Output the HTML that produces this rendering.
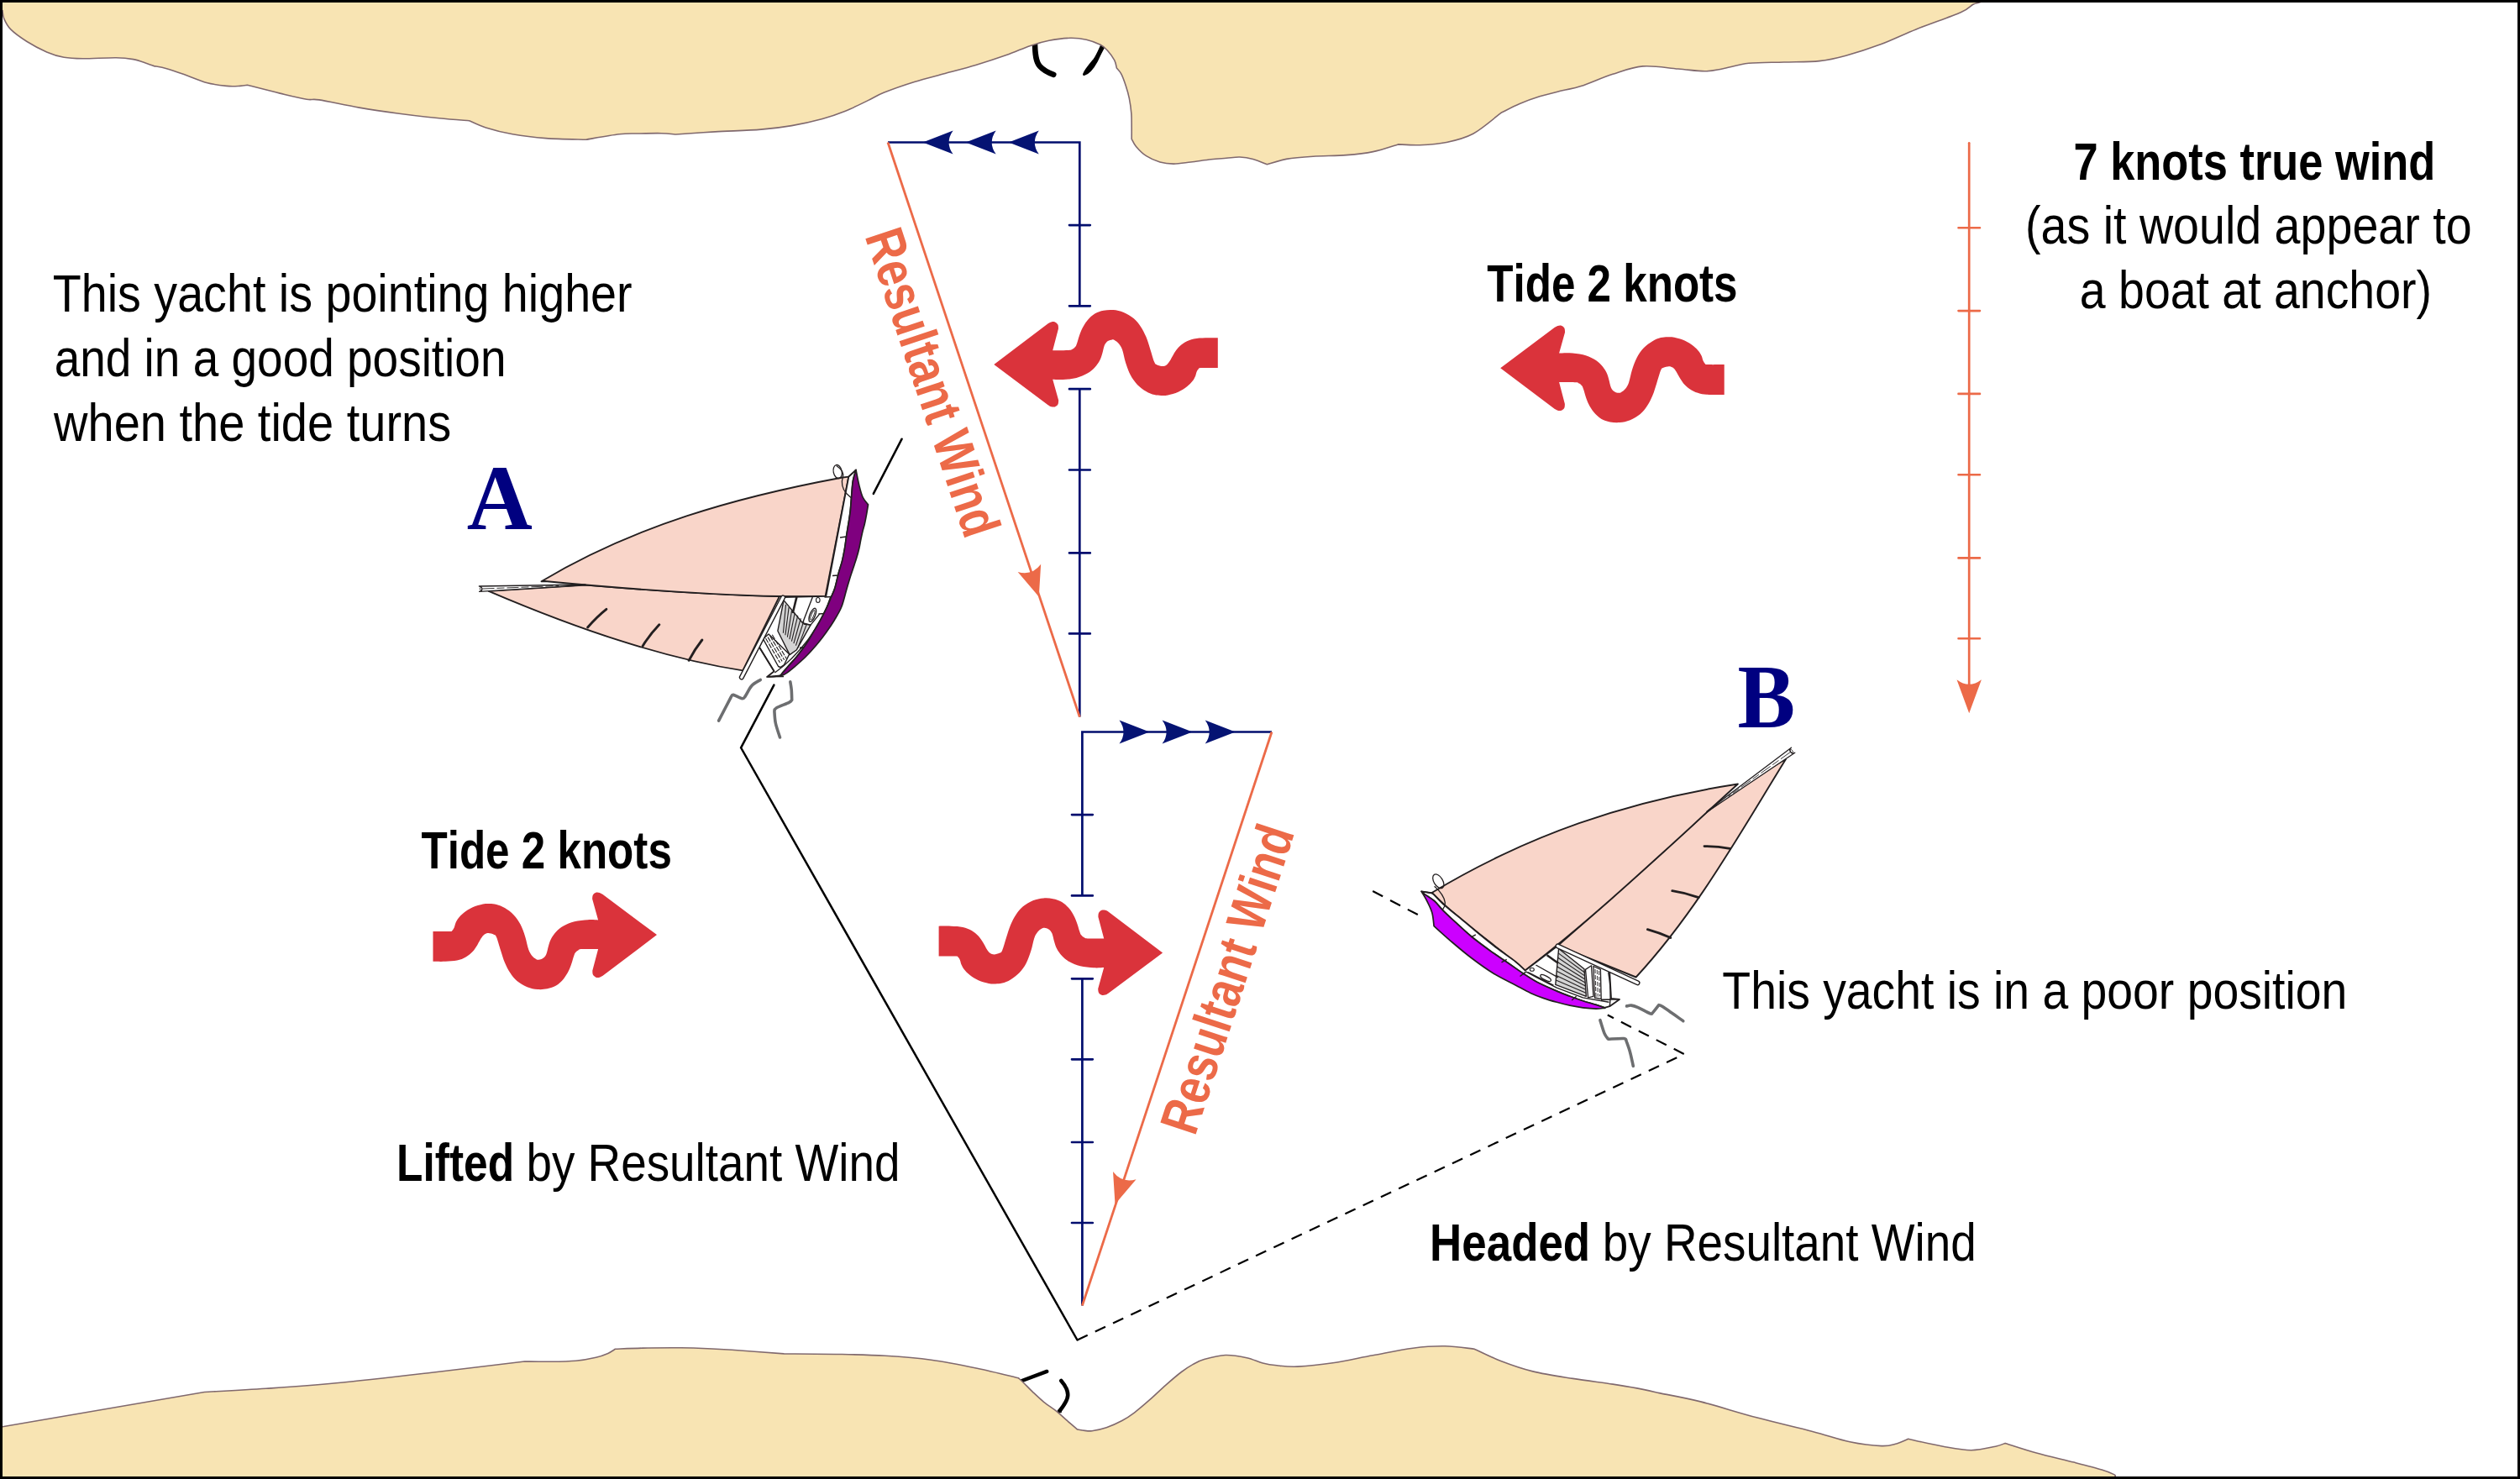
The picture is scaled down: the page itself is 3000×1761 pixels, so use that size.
<!DOCTYPE html><html><head><meta charset="utf-8"><title>Resultant wind and tide</title><style>html,body{margin:0;padding:0;background:#fff;overflow:hidden}svg{display:block}text{font-kerning:none}</style></head><body><svg xmlns="http://www.w3.org/2000/svg" width="3000" height="1761" viewBox="0 0 3000 1761"><rect width="3000" height="1761" fill="#fff"/><path d="M1232,49 C1232,66 1233.5,74 1238,79 C1243,84.5 1249,87 1254.3,88.8" fill="none" stroke="#000" stroke-width="6.5" stroke-linecap="round"/>
<path d="M1313,51 C1308,62 1306,67 1303,71 C1298,77 1292.5,83 1290.5,88.5 C1296,87 1302,79 1305.5,72.5 C1308.5,66 1311.5,60 1313.5,56.5 Z" fill="#000" stroke="#000" stroke-width="3" stroke-linejoin="round"/>
<path d="M1212,1645.8 L1246.3,1632.9" fill="none" stroke="#000" stroke-width="4.4" stroke-linecap="round"/>
<path d="M1263.3,1644 C1268,1649.5 1271.5,1655 1271.2,1661.4 C1271,1667 1267,1673 1261.5,1680" fill="none" stroke="#000" stroke-width="4.6" stroke-linecap="round"/>
<path d="M1258.5,1679.5 L1264.5,1674.5 L1263.5,1682.5 Z" fill="#000"/>
<path d="M-5,-5 L-5,10 L3,12.7 C3.3,14.28 3.18,18.5 4.8,22.2 C6.42,25.9 8.22,30.4 12.7,34.9 C17.18,39.4 24.55,44.7 31.7,49.2 C38.85,53.7 48.18,58.72 55.6,61.9 C63.02,65.08 69.07,66.98 76.2,68.3 C83.33,69.62 88.08,69.73 98.4,69.8 C108.72,69.87 128.05,68.57 138.1,68.7 C148.15,68.83 152.62,69.48 158.7,70.6 C164.78,71.72 170.5,74.07 174.6,75.4 C178.7,76.73 181.85,78.07 183.3,78.6 C185.82,79.12 191.92,79.85 198.4,81.7 C204.88,83.55 214.27,86.92 222.2,89.7 C230.13,92.48 238.07,96.28 246,98.4 C253.93,100.52 263.18,101.73 269.8,102.4 C276.42,103.07 281.6,102.58 285.7,102.4 C289.8,102.22 292.95,101.48 294.4,101.3 C300.88,102.93 321.52,108.27 333.3,111.1 C345.08,113.93 357.32,117 365.1,118.3 C372.88,119.6 369.58,117.27 380,118.9 C390.42,120.53 411.73,125.38 427.6,128.1 C443.47,130.82 459.32,133.08 475.2,135.2 C491.08,137.32 509,139.38 522.9,140.8 C536.8,142.22 552.65,143.22 558.6,143.7 C561.9,145.07 569.8,149.22 578.4,151.9 C587,154.58 598.3,157.68 610.2,159.8 C622.1,161.92 635.25,163.53 649.8,164.6 C664.35,165.67 689.55,165.93 697.5,166.2 C704.1,165.13 726.68,161 737.1,159.8 C747.52,158.6 751.62,159.18 760,159 C768.38,158.82 779.95,158.53 787.4,158.7 C794.85,158.87 801.82,159.78 804.7,160 C812.47,159.48 834.42,157.88 851.3,156.9 C868.18,155.92 890.8,155.32 906,154.1 C921.2,152.88 930.32,151.72 942.5,149.6 C954.68,147.48 968.45,144.3 979.1,141.4 C989.75,138.5 997.28,135.87 1006.4,132.2 C1015.52,128.53 1026.18,123.05 1033.8,119.4 C1041.42,115.75 1042.97,113.95 1052.1,110.3 C1061.23,106.65 1076.43,101.3 1088.6,97.5 C1100.77,93.7 1112.93,90.83 1125.1,87.5 C1137.27,84.17 1149.43,81.15 1161.6,77.5 C1173.77,73.85 1187.25,69.45 1198.1,65.6 C1208.95,61.75 1218.23,57.28 1226.7,54.4 C1235.17,51.52 1241.03,49.82 1248.9,48.3 C1256.77,46.78 1266.5,45.48 1273.9,45.3 C1281.3,45.12 1287.28,45.87 1293.3,47.2 C1299.32,48.53 1305.83,51.17 1310,53.3 C1314.17,55.43 1315.52,56.93 1318.3,60 C1321.08,63.07 1324.85,68.18 1326.7,71.7 C1328.55,75.22 1328.95,79.53 1329.4,81.1 C1330.33,82.3 1333.18,84.78 1335,88.3 C1336.82,91.82 1338.75,97.45 1340.3,102.2 C1341.85,106.95 1343.22,111.4 1344.3,116.8 C1345.38,122.2 1346.32,128.92 1346.8,134.6 C1347.28,140.28 1347.13,145.75 1347.2,150.9 C1347.27,156.05 1347.2,163.07 1347.2,165.5 C1348.08,166.98 1349.6,171.03 1352.5,174.4 C1355.4,177.77 1359.87,182.6 1364.6,185.7 C1369.33,188.8 1375.48,191.43 1380.9,193 C1386.32,194.57 1391.02,195.1 1397.1,195.1 C1403.18,195.1 1409.97,193.88 1417.4,193 C1424.83,192.12 1434.6,190.58 1441.7,189.8 C1448.8,189.02 1454.3,188.77 1460,188.3 C1465.7,187.83 1470.62,186.82 1475.9,187 C1481.18,187.18 1486.28,187.95 1491.7,189.4 C1497.12,190.85 1505.62,194.65 1508.4,195.7 C1512.23,194.65 1522.27,190.98 1531.4,189.4 C1540.53,187.82 1551.28,187 1563.2,186.2 C1575.12,185.4 1591,185.53 1602.9,184.6 C1614.8,183.67 1624.35,182.72 1634.6,180.6 C1644.85,178.48 1659.43,173.35 1664.4,171.9 C1668.7,172.03 1680.62,173.1 1690.2,172.7 C1699.78,172.3 1711.32,171.75 1721.9,169.5 C1732.48,167.25 1742.85,165.07 1753.7,159.2 C1764.55,153.33 1781.45,138.45 1787,134.3 C1790.7,132.5 1801.53,126.75 1809.2,123.5 C1816.87,120.25 1824.53,117.42 1833,114.8 C1841.47,112.18 1851.82,109.83 1860,107.8 C1868.18,105.77 1872.12,105.85 1882.1,102.6 C1892.08,99.35 1907.63,92.25 1919.9,88.3 C1932.17,84.35 1942.73,79.95 1955.7,78.9 C1968.67,77.85 1985.43,81.02 1997.7,82 C2009.97,82.98 2020.53,84.8 2029.3,84.8 C2038.07,84.8 2041.53,83.58 2050.3,82 C2059.07,80.42 2069.63,76.63 2081.9,75.3 C2094.17,73.97 2109.88,74.45 2123.9,74 C2137.92,73.55 2153.73,73.9 2166,72.6 C2178.27,71.3 2185.23,69.53 2197.5,66.2 C2209.77,62.87 2225.58,57.85 2239.6,52.6 C2253.62,47.35 2265.83,41.02 2281.6,34.7 C2297.37,28.38 2322.98,19.6 2334.2,14.7 C2345.42,9.8 2345.03,7.33 2348.9,5.3 C2352.77,3.27 2353.88,4.22 2357.4,2.5 C2360.92,0.78 2367.9,-3.75 2370,-5 L-5,-5 Z" fill="#F8E4B3" stroke="#80696E" stroke-width="1.6"/>
<path d="M-5,1700 L3,1698.7 L243.3,1657.5 C255.53,1656.8 290.58,1655.08 316.7,1653.3 C342.82,1651.52 367.45,1649.93 400,1646.8 C432.55,1643.67 474.57,1638.8 512,1634.5 C549.43,1630.2 605.83,1623.25 624.6,1621 C629.5,1621.05 643.82,1621.43 654,1621.3 C664.18,1621.17 676.45,1621.05 685.7,1620.2 C694.95,1619.35 703.15,1617.67 709.5,1616.2 C715.85,1614.73 719.97,1613.05 723.8,1611.4 C727.63,1609.75 731.05,1607.15 732.5,1606.3 C737.92,1606.1 753.75,1605.35 765,1605.1 C776.25,1604.85 789.9,1604.82 800,1604.8 C810.1,1604.78 813.72,1604.58 825.6,1605 C837.48,1605.42 853.35,1606.15 871.3,1607.3 C889.25,1608.45 922.97,1611.13 933.3,1611.9 C944.27,1612 979.02,1612.1 999.1,1612.5 C1019.18,1612.9 1035.55,1613.18 1053.8,1614.3 C1072.05,1615.42 1090.35,1616.72 1108.6,1619.2 C1126.85,1621.68 1146,1625.62 1163.3,1629.2 C1180.6,1632.78 1204.22,1638.78 1212.4,1640.7 C1213.38,1641.62 1215.5,1643.47 1218.3,1646.2 C1221.1,1648.93 1225.15,1653.25 1229.2,1657.1 C1233.25,1660.95 1237.83,1665.43 1242.6,1669.3 C1247.37,1673.17 1253.23,1676.65 1257.8,1680.3 C1262.37,1683.95 1265.9,1687.6 1270,1691.2 C1274.1,1694.8 1280.33,1700.12 1282.4,1701.9 C1283.88,1702.15 1288.37,1703.1 1291.3,1703.4 C1294.23,1703.7 1295.68,1704.32 1300,1703.7 C1304.32,1703.08 1311.23,1701.73 1317.2,1699.7 C1323.17,1697.67 1330.22,1694.48 1335.8,1691.5 C1341.38,1688.52 1345.12,1686.02 1350.7,1681.8 C1356.28,1677.58 1363.1,1671.65 1369.3,1666.2 C1375.5,1660.75 1381.7,1654.55 1387.9,1649.1 C1394.1,1643.65 1401.15,1637.58 1406.5,1633.5 C1411.85,1629.42 1415.5,1627.08 1420,1624.6 C1424.5,1622.12 1427.02,1620.45 1433.5,1618.6 C1439.98,1616.75 1450.43,1613.82 1458.9,1613.5 C1467.37,1613.18 1476.9,1615.12 1484.3,1616.7 C1491.7,1618.28 1497.35,1621.48 1503.3,1623 C1509.25,1624.52 1513.08,1625.12 1520,1625.8 C1526.92,1626.48 1533.68,1627.6 1544.8,1627.1 C1555.92,1626.6 1571.78,1625.02 1586.7,1622.8 C1601.62,1620.58 1618.43,1616.73 1634.3,1613.8 C1650.17,1610.87 1667.62,1607.03 1681.9,1605.2 C1696.18,1603.37 1707.78,1602.63 1720,1602.8 C1732.22,1602.97 1749.33,1605.63 1755.2,1606.2 C1760.45,1608.58 1775.1,1616.05 1786.7,1620.5 C1798.3,1624.95 1810.52,1629.42 1824.8,1632.9 C1839.08,1636.38 1856.53,1638.87 1872.4,1641.4 C1888.27,1643.93 1907.3,1646.18 1920,1648.1 C1932.7,1650.02 1939.4,1651.15 1948.6,1652.9 C1957.8,1654.65 1970.77,1657.65 1975.2,1658.6 C1983.4,1660.32 2005.08,1664.03 2024.4,1668.9 C2043.72,1673.77 2068.87,1681.88 2091.1,1687.8 C2113.33,1693.72 2139.28,1699.58 2157.8,1704.4 C2176.32,1709.22 2188.5,1713.83 2202.2,1716.7 C2215.9,1719.57 2230.73,1721.23 2240,1721.6 C2249.27,1721.97 2252.53,1720.28 2257.8,1718.9 C2263.07,1717.52 2269.3,1714.23 2271.6,1713.3 C2278.55,1714.78 2300.78,1719.97 2313.3,1722.2 C2325.82,1724.43 2336.32,1726.7 2346.7,1726.7 C2357.08,1726.7 2368.87,1723.58 2375.6,1722.2 C2382.33,1720.82 2385.18,1719.03 2387.1,1718.4 C2393.32,1720.33 2410.77,1726.22 2424.4,1730 C2438.03,1733.78 2455.93,1737.77 2468.9,1741.1 C2481.87,1744.43 2494.23,1747.58 2502.2,1750 C2510.17,1752.42 2514.07,1754.27 2516.7,1755.6 C2519.33,1756.93 2517.78,1757.6 2518,1758 L2518,1775 L-5,1775 L-5,1700 Z" fill="#F8E4B3" stroke="#80696E" stroke-width="1.6"/>
<path d="M1057,169.5 H1285.3 V364.3 M1285.3,463.2 V853.6" fill="none" stroke="#020E6E" stroke-width="2.7" stroke-linejoin="miter"/>
<path d="M1273,268.1 H1297.8 M1273,364.3 H1297.8 M1273,463.2 H1297.8 M1273,559.5 H1297.8 M1273,658.4 H1297.8 M1273,754.4 H1297.8 " fill="none" stroke="#020E6E" stroke-width="2.7" stroke-linecap="round"/>
<path d="M0,0 L-36,-14.1 Q-26,0 -36,14.1 Z" fill="#051373" transform="translate(1098.6,169.5) rotate(180)"/>
<path d="M0,0 L-36,-14.1 Q-26,0 -36,14.1 Z" fill="#051373" transform="translate(1149.7,169.5) rotate(180)"/>
<path d="M0,0 L-36,-14.1 Q-26,0 -36,14.1 Z" fill="#051373" transform="translate(1200.8,169.5) rotate(180)"/>
<path d="M1514,871.5 H1288.4 V1066.4 M1288.4,1165.3 V1554.5" fill="none" stroke="#020E6E" stroke-width="2.7" stroke-linejoin="miter"/>
<path d="M1276,970.1 H1300.8 M1276,1066.4 H1300.8 M1276,1165.3 H1300.8 M1276,1261.3 H1300.8 M1276,1360 H1300.8 M1276,1456 H1300.8 " fill="none" stroke="#020E6E" stroke-width="2.7" stroke-linecap="round"/>
<path d="M0,0 L-36,-14.1 Q-26,0 -36,14.1 Z" fill="#051373" transform="translate(1368.5,871.5) rotate(0)"/>
<path d="M0,0 L-36,-14.1 Q-26,0 -36,14.1 Z" fill="#051373" transform="translate(1419.6,871.5) rotate(0)"/>
<path d="M0,0 L-36,-14.1 Q-26,0 -36,14.1 Z" fill="#051373" transform="translate(1470.7,871.5) rotate(0)"/>
<path d="M1057,169.5 L1285.3,853.6" fill="none" stroke="#EC6A48" stroke-width="2.8"/>
<path d="M0,0 L-36,-14.5 Q-26,0 -36,14.5 Z" fill="#EC6A48" transform="translate(1236.8,710.6) rotate(71.54)"/>
<path d="M1514,871.5 L1288.4,1554.5" fill="none" stroke="#EC6A48" stroke-width="2.8"/>
<path d="M0,0 L-36,-14.5 Q-26,0 -36,14.5 Z" fill="#EC6A48" transform="translate(1327.5,1433.8) rotate(108.28)"/>
<path d="M2344.2,170.3 V815" fill="none" stroke="#EC6A48" stroke-width="2.7" stroke-linecap="round"/>
<path d="M2331.5,271.3 H2357 M2331.5,370.1 H2357 M2331.5,468.9 H2357 M2331.5,565.3 H2357 M2331.5,664.4 H2357 M2331.5,760.2 H2357 " fill="none" stroke="#EC6A48" stroke-width="2.6" stroke-linecap="round"/>
<path d="M0,0 L-40,-14.7 Q-29.0,0 -40,14.7 Z" fill="#EC6A48" transform="translate(2344.2,849.2) rotate(90)"/>
<path d="M1073.6,522.7 L1039.8,587.9" fill="none" stroke="#000" stroke-width="2.5" stroke-linecap="round"/>
<path d="M921.4,815.6 L882.1,890.3 L1282.5,1595.5" fill="none" stroke="#000" stroke-width="2.5" stroke-linecap="round" stroke-linejoin="miter"/>
<path d="M1282.5,1595.5 L2005,1255.1 L1913.8,1208.6" fill="none" stroke="#000" stroke-width="2.2" stroke-dasharray="13.5 10" stroke-linejoin="miter"/>
<path d="M1634.2,1061.1 L1688.6,1089.5" fill="none" stroke="#000" stroke-width="2.2" stroke-dasharray="13.5 10"/>
<path d="M0,-17.8 C3.27,-17.8 15.78,-17.62 19.6,-17.8 C23.42,-17.98 21.95,-18.1 22.9,-18.9 C23.85,-19.7 24.63,-21.1 25.3,-22.6 C25.97,-24.1 26.08,-26.08 26.9,-27.9 C27.72,-29.72 28.57,-31.48 30.2,-33.5 C31.83,-35.52 33.87,-37.83 36.7,-40 C39.53,-42.17 43.42,-44.8 47.2,-46.5 C50.98,-48.2 56.02,-49.5 59.4,-50.2 C62.78,-50.9 64.8,-50.77 67.5,-50.7 C70.2,-50.63 72.62,-50.63 75.6,-49.8 C78.58,-48.97 82.02,-47.73 85.4,-45.7 C88.78,-43.67 92.8,-40.85 95.9,-37.6 C99,-34.35 101.7,-30.53 104,-26.2 C106.3,-21.87 108.08,-16.6 109.7,-11.6 C111.32,-6.6 112.35,0.02 113.7,3.8 C115.05,7.58 116.3,9.22 117.8,11.1 C119.3,12.98 121.35,14.3 122.7,15.1 C124.05,15.9 124.55,16.03 125.9,15.9 C127.25,15.77 129.32,15.37 130.8,14.3 C132.28,13.23 133.68,11.97 134.8,9.5 C135.92,7.03 136.55,2.55 137.5,-0.5 C138.45,-3.55 139,-6 140.5,-8.8 C142,-11.6 144.03,-14.72 146.5,-17.3 C148.97,-19.88 151.65,-22.25 155.3,-24.3 C158.95,-26.35 163.57,-28.38 168.4,-29.6 C173.23,-30.82 179.6,-31.3 184.3,-31.6 C189,-31.9 194.55,-31.43 196.6,-31.4 L189.6,-56.5 C189.73,-57.3 189.68,-60.03 190.4,-61.3 C191.12,-62.57 192.58,-63.67 193.9,-64.1 C195.22,-64.53 196.98,-64.23 198.3,-63.9 C199.62,-63.57 201.22,-62.4 201.8,-62.1 L266.5,-13.7 L201.8,35.2 C201.22,35.48 199.62,36.62 198.3,36.9 C196.98,37.18 195.22,37.42 193.9,36.9 C192.58,36.38 191.08,35.12 190.4,33.8 C189.72,32.48 189.9,29.8 189.8,29 L196.6,3.1 C193.37,3.13 181.17,3.03 177.2,3.3 C173.23,3.57 174.12,3.97 172.8,4.7 C171.48,5.43 170.17,6.53 169.3,7.7 C168.43,8.87 168.33,9.57 167.6,11.7 C166.87,13.83 165.93,17.57 164.9,20.5 C163.87,23.43 163,26.23 161.4,29.3 C159.8,32.37 157.78,35.98 155.3,38.9 C152.82,41.82 149.72,44.87 146.5,46.8 C143.28,48.73 139.67,49.77 136,50.5 C132.33,51.23 128.48,51.55 124.5,51.2 C120.52,50.85 116.18,50.08 112.1,48.4 C108.02,46.72 103.38,43.93 100,41.1 C96.62,38.27 94.23,35.05 91.8,31.4 C89.37,27.75 87.28,23.67 85.4,19.2 C83.52,14.73 82.13,9.6 80.5,4.6 C78.87,-0.4 76.95,-7.68 75.6,-10.8 C74.25,-13.92 74.02,-13.28 72.4,-14.1 C70.78,-14.92 67.8,-15.7 65.9,-15.7 C64,-15.7 62.48,-15.18 61,-14.1 C59.52,-13.02 58.35,-11.23 57,-9.2 C55.65,-7.17 54.53,-4.47 52.9,-1.9 C51.27,0.67 49.5,3.77 47.2,6.2 C44.9,8.63 42.2,10.93 39.1,12.7 C36,14.47 32.65,15.92 28.6,16.8 C24.55,17.68 19.57,17.8 14.8,18 C10.03,18.2 2.47,18 0,18 L0,-17.8 Z" fill="#DA333B" transform="translate(515.5,1126.8)"/>
<path d="M0,-17.8 C3.27,-17.8 15.78,-17.62 19.6,-17.8 C23.42,-17.98 21.95,-18.1 22.9,-18.9 C23.85,-19.7 24.63,-21.1 25.3,-22.6 C25.97,-24.1 26.08,-26.08 26.9,-27.9 C27.72,-29.72 28.57,-31.48 30.2,-33.5 C31.83,-35.52 33.87,-37.83 36.7,-40 C39.53,-42.17 43.42,-44.8 47.2,-46.5 C50.98,-48.2 56.02,-49.5 59.4,-50.2 C62.78,-50.9 64.8,-50.77 67.5,-50.7 C70.2,-50.63 72.62,-50.63 75.6,-49.8 C78.58,-48.97 82.02,-47.73 85.4,-45.7 C88.78,-43.67 92.8,-40.85 95.9,-37.6 C99,-34.35 101.7,-30.53 104,-26.2 C106.3,-21.87 108.08,-16.6 109.7,-11.6 C111.32,-6.6 112.35,0.02 113.7,3.8 C115.05,7.58 116.3,9.22 117.8,11.1 C119.3,12.98 121.35,14.3 122.7,15.1 C124.05,15.9 124.55,16.03 125.9,15.9 C127.25,15.77 129.32,15.37 130.8,14.3 C132.28,13.23 133.68,11.97 134.8,9.5 C135.92,7.03 136.55,2.55 137.5,-0.5 C138.45,-3.55 139,-6 140.5,-8.8 C142,-11.6 144.03,-14.72 146.5,-17.3 C148.97,-19.88 151.65,-22.25 155.3,-24.3 C158.95,-26.35 163.57,-28.38 168.4,-29.6 C173.23,-30.82 179.6,-31.3 184.3,-31.6 C189,-31.9 194.55,-31.43 196.6,-31.4 L189.6,-56.5 C189.73,-57.3 189.68,-60.03 190.4,-61.3 C191.12,-62.57 192.58,-63.67 193.9,-64.1 C195.22,-64.53 196.98,-64.23 198.3,-63.9 C199.62,-63.57 201.22,-62.4 201.8,-62.1 L266.5,-13.7 L201.8,35.2 C201.22,35.48 199.62,36.62 198.3,36.9 C196.98,37.18 195.22,37.42 193.9,36.9 C192.58,36.38 191.08,35.12 190.4,33.8 C189.72,32.48 189.9,29.8 189.8,29 L196.6,3.1 C193.37,3.13 181.17,3.03 177.2,3.3 C173.23,3.57 174.12,3.97 172.8,4.7 C171.48,5.43 170.17,6.53 169.3,7.7 C168.43,8.87 168.33,9.57 167.6,11.7 C166.87,13.83 165.93,17.57 164.9,20.5 C163.87,23.43 163,26.23 161.4,29.3 C159.8,32.37 157.78,35.98 155.3,38.9 C152.82,41.82 149.72,44.87 146.5,46.8 C143.28,48.73 139.67,49.77 136,50.5 C132.33,51.23 128.48,51.55 124.5,51.2 C120.52,50.85 116.18,50.08 112.1,48.4 C108.02,46.72 103.38,43.93 100,41.1 C96.62,38.27 94.23,35.05 91.8,31.4 C89.37,27.75 87.28,23.67 85.4,19.2 C83.52,14.73 82.13,9.6 80.5,4.6 C78.87,-0.4 76.95,-7.68 75.6,-10.8 C74.25,-13.92 74.02,-13.28 72.4,-14.1 C70.78,-14.92 67.8,-15.7 65.9,-15.7 C64,-15.7 62.48,-15.18 61,-14.1 C59.52,-13.02 58.35,-11.23 57,-9.2 C55.65,-7.17 54.53,-4.47 52.9,-1.9 C51.27,0.67 49.5,3.77 47.2,6.2 C44.9,8.63 42.2,10.93 39.1,12.7 C36,14.47 32.65,15.92 28.6,16.8 C24.55,17.68 19.57,17.8 14.8,18 C10.03,18.2 2.47,18 0,18 L0,-17.8 Z" fill="#DA333B" transform="translate(1117.6,1120.7) scale(1,-1)"/>
<path d="M0,-17.8 C3.27,-17.8 15.78,-17.62 19.6,-17.8 C23.42,-17.98 21.95,-18.1 22.9,-18.9 C23.85,-19.7 24.63,-21.1 25.3,-22.6 C25.97,-24.1 26.08,-26.08 26.9,-27.9 C27.72,-29.72 28.57,-31.48 30.2,-33.5 C31.83,-35.52 33.87,-37.83 36.7,-40 C39.53,-42.17 43.42,-44.8 47.2,-46.5 C50.98,-48.2 56.02,-49.5 59.4,-50.2 C62.78,-50.9 64.8,-50.77 67.5,-50.7 C70.2,-50.63 72.62,-50.63 75.6,-49.8 C78.58,-48.97 82.02,-47.73 85.4,-45.7 C88.78,-43.67 92.8,-40.85 95.9,-37.6 C99,-34.35 101.7,-30.53 104,-26.2 C106.3,-21.87 108.08,-16.6 109.7,-11.6 C111.32,-6.6 112.35,0.02 113.7,3.8 C115.05,7.58 116.3,9.22 117.8,11.1 C119.3,12.98 121.35,14.3 122.7,15.1 C124.05,15.9 124.55,16.03 125.9,15.9 C127.25,15.77 129.32,15.37 130.8,14.3 C132.28,13.23 133.68,11.97 134.8,9.5 C135.92,7.03 136.55,2.55 137.5,-0.5 C138.45,-3.55 139,-6 140.5,-8.8 C142,-11.6 144.03,-14.72 146.5,-17.3 C148.97,-19.88 151.65,-22.25 155.3,-24.3 C158.95,-26.35 163.57,-28.38 168.4,-29.6 C173.23,-30.82 179.6,-31.3 184.3,-31.6 C189,-31.9 194.55,-31.43 196.6,-31.4 L189.6,-56.5 C189.73,-57.3 189.68,-60.03 190.4,-61.3 C191.12,-62.57 192.58,-63.67 193.9,-64.1 C195.22,-64.53 196.98,-64.23 198.3,-63.9 C199.62,-63.57 201.22,-62.4 201.8,-62.1 L266.5,-13.7 L201.8,35.2 C201.22,35.48 199.62,36.62 198.3,36.9 C196.98,37.18 195.22,37.42 193.9,36.9 C192.58,36.38 191.08,35.12 190.4,33.8 C189.72,32.48 189.9,29.8 189.8,29 L196.6,3.1 C193.37,3.13 181.17,3.03 177.2,3.3 C173.23,3.57 174.12,3.97 172.8,4.7 C171.48,5.43 170.17,6.53 169.3,7.7 C168.43,8.87 168.33,9.57 167.6,11.7 C166.87,13.83 165.93,17.57 164.9,20.5 C163.87,23.43 163,26.23 161.4,29.3 C159.8,32.37 157.78,35.98 155.3,38.9 C152.82,41.82 149.72,44.87 146.5,46.8 C143.28,48.73 139.67,49.77 136,50.5 C132.33,51.23 128.48,51.55 124.5,51.2 C120.52,50.85 116.18,50.08 112.1,48.4 C108.02,46.72 103.38,43.93 100,41.1 C96.62,38.27 94.23,35.05 91.8,31.4 C89.37,27.75 87.28,23.67 85.4,19.2 C83.52,14.73 82.13,9.6 80.5,4.6 C78.87,-0.4 76.95,-7.68 75.6,-10.8 C74.25,-13.92 74.02,-13.28 72.4,-14.1 C70.78,-14.92 67.8,-15.7 65.9,-15.7 C64,-15.7 62.48,-15.18 61,-14.1 C59.52,-13.02 58.35,-11.23 57,-9.2 C55.65,-7.17 54.53,-4.47 52.9,-1.9 C51.27,0.67 49.5,3.77 47.2,6.2 C44.9,8.63 42.2,10.93 39.1,12.7 C36,14.47 32.65,15.92 28.6,16.8 C24.55,17.68 19.57,17.8 14.8,18 C10.03,18.2 2.47,18 0,18 L0,-17.8 Z" fill="#DA333B" transform="translate(2052.7,451.9) scale(-1,1)"/>
<path d="M0,-17.8 C3.27,-17.8 15.78,-17.62 19.6,-17.8 C23.42,-17.98 21.95,-18.1 22.9,-18.9 C23.85,-19.7 24.63,-21.1 25.3,-22.6 C25.97,-24.1 26.08,-26.08 26.9,-27.9 C27.72,-29.72 28.57,-31.48 30.2,-33.5 C31.83,-35.52 33.87,-37.83 36.7,-40 C39.53,-42.17 43.42,-44.8 47.2,-46.5 C50.98,-48.2 56.02,-49.5 59.4,-50.2 C62.78,-50.9 64.8,-50.77 67.5,-50.7 C70.2,-50.63 72.62,-50.63 75.6,-49.8 C78.58,-48.97 82.02,-47.73 85.4,-45.7 C88.78,-43.67 92.8,-40.85 95.9,-37.6 C99,-34.35 101.7,-30.53 104,-26.2 C106.3,-21.87 108.08,-16.6 109.7,-11.6 C111.32,-6.6 112.35,0.02 113.7,3.8 C115.05,7.58 116.3,9.22 117.8,11.1 C119.3,12.98 121.35,14.3 122.7,15.1 C124.05,15.9 124.55,16.03 125.9,15.9 C127.25,15.77 129.32,15.37 130.8,14.3 C132.28,13.23 133.68,11.97 134.8,9.5 C135.92,7.03 136.55,2.55 137.5,-0.5 C138.45,-3.55 139,-6 140.5,-8.8 C142,-11.6 144.03,-14.72 146.5,-17.3 C148.97,-19.88 151.65,-22.25 155.3,-24.3 C158.95,-26.35 163.57,-28.38 168.4,-29.6 C173.23,-30.82 179.6,-31.3 184.3,-31.6 C189,-31.9 194.55,-31.43 196.6,-31.4 L189.6,-56.5 C189.73,-57.3 189.68,-60.03 190.4,-61.3 C191.12,-62.57 192.58,-63.67 193.9,-64.1 C195.22,-64.53 196.98,-64.23 198.3,-63.9 C199.62,-63.57 201.22,-62.4 201.8,-62.1 L266.5,-13.7 L201.8,35.2 C201.22,35.48 199.62,36.62 198.3,36.9 C196.98,37.18 195.22,37.42 193.9,36.9 C192.58,36.38 191.08,35.12 190.4,33.8 C189.72,32.48 189.9,29.8 189.8,29 L196.6,3.1 C193.37,3.13 181.17,3.03 177.2,3.3 C173.23,3.57 174.12,3.97 172.8,4.7 C171.48,5.43 170.17,6.53 169.3,7.7 C168.43,8.87 168.33,9.57 167.6,11.7 C166.87,13.83 165.93,17.57 164.9,20.5 C163.87,23.43 163,26.23 161.4,29.3 C159.8,32.37 157.78,35.98 155.3,38.9 C152.82,41.82 149.72,44.87 146.5,46.8 C143.28,48.73 139.67,49.77 136,50.5 C132.33,51.23 128.48,51.55 124.5,51.2 C120.52,50.85 116.18,50.08 112.1,48.4 C108.02,46.72 103.38,43.93 100,41.1 C96.62,38.27 94.23,35.05 91.8,31.4 C89.37,27.75 87.28,23.67 85.4,19.2 C83.52,14.73 82.13,9.6 80.5,4.6 C78.87,-0.4 76.95,-7.68 75.6,-10.8 C74.25,-13.92 74.02,-13.28 72.4,-14.1 C70.78,-14.92 67.8,-15.7 65.9,-15.7 C64,-15.7 62.48,-15.18 61,-14.1 C59.52,-13.02 58.35,-11.23 57,-9.2 C55.65,-7.17 54.53,-4.47 52.9,-1.9 C51.27,0.67 49.5,3.77 47.2,6.2 C44.9,8.63 42.2,10.93 39.1,12.7 C36,14.47 32.65,15.92 28.6,16.8 C24.55,17.68 19.57,17.8 14.8,18 C10.03,18.2 2.47,18 0,18 L0,-17.8 Z" fill="#DA333B" transform="translate(1449.8,420.3) scale(-1,-1)"/>
<text transform="translate(64,371.1) scale(0.8834,1.0) translate(-1.42,0)" font-family="Liberation Sans" font-weight="normal" font-size="63" fill="#000" style="font-kerning:none">This yacht is pointing higher</text>
<text transform="translate(67,448.1) scale(0.8725,1.0) translate(-2.68,0)" font-family="Liberation Sans" font-weight="normal" font-size="63" fill="#000" style="font-kerning:none">and in a good position</text>
<text transform="translate(64,525) scale(0.8888,1.0) translate(0.09,0)" font-family="Liberation Sans" font-weight="normal" font-size="63" fill="#000" style="font-kerning:none">when the tide turns</text>
<text transform="translate(2470.7,213.8) scale(0.8320,1.0) translate(-2.71,0)" font-family="Liberation Sans" font-weight="bold" font-size="63" fill="#000" style="font-kerning:none">7 knots true wind</text>
<text transform="translate(2414.4,290) scale(0.8829,1.0) translate(-3.91,0)" font-family="Liberation Sans" font-weight="normal" font-size="63" fill="#000" style="font-kerning:none">(as it would appear to</text>
<text transform="translate(2478.2,366.7) scale(0.8801,1.0) translate(-2.68,0)" font-family="Liberation Sans" font-weight="normal" font-size="63" fill="#000" style="font-kerning:none">a boat at anchor)</text>
<text transform="translate(1770.9,358.8) scale(0.8115,1.0) translate(-0.71,0)" font-family="Liberation Sans" font-weight="bold" font-size="63" fill="#000" style="font-kerning:none">Tide 2 knots</text>
<text transform="translate(502,1033.5) scale(0.8120,1.0) translate(-0.71,0)" font-family="Liberation Sans" font-weight="bold" font-size="63" fill="#000" style="font-kerning:none">Tide 2 knots</text>
<text transform="translate(475.5,1405.5) scale(0.8170,1.0) translate(-4.21,0)" font-family="Liberation Sans" font-weight="bold" font-size="63" fill="#000" style="font-kerning:none">Lifted</text>
<text transform="translate(630,1405.5) scale(0.8706,1.0) translate(-4.06,0)" font-family="Liberation Sans" font-weight="normal" font-size="63" fill="#000" style="font-kerning:none">by Resultant Wind</text>
<text transform="translate(1705.65,1501.25) scale(0.8396,1.0) translate(-4.21,0)" font-family="Liberation Sans" font-weight="bold" font-size="63" fill="#000" style="font-kerning:none">Headed</text>
<text transform="translate(1911.3,1501.25) scale(0.8704,1.0) translate(-4.06,0)" font-family="Liberation Sans" font-weight="normal" font-size="63" fill="#000" style="font-kerning:none">by Resultant Wind</text>
<text transform="translate(2051.6,1201.1) scale(0.8782,1.0) translate(-1.42,0)" font-family="Liberation Sans" font-weight="normal" font-size="63" fill="#000" style="font-kerning:none">This yacht is in a poor position</text>
<text transform="translate(556.7,629.9) scale(0.9928,1.0) translate(-1.06,0)" font-family="Liberation Serif" font-weight="bold" font-size="109" fill="#000080" style="font-kerning:none">A</text>
<text transform="translate(2070.1,865.9) scale(0.9490,1.0) translate(-1.8,0)" font-family="Liberation Serif" font-weight="bold" font-size="108.5" fill="#000080" style="font-kerning:none">B</text>
<text transform="translate(1030.3,284.3) rotate(71.647) scale(0.8139,1.0) translate(-4.31,0)" font-family="Liberation Sans" font-weight="bold" font-size="64.5" fill="#EC6A48" style="font-kerning:none">Resultant Wind</text>
<text transform="translate(1423.7,1350.3) rotate(-71.865) scale(0.8129,1.0) translate(-4.31,0)" font-family="Liberation Sans" font-weight="bold" font-size="64.5" fill="#EC6A48" style="font-kerning:none">Resultant Wind</text>
<path d="M581.8,703.8 L697,696.5 C774.16,702.88 850.56,708.37 928,710 L884.3,798.4 C783.67,782.93 674.97,743.68 581.8,703.8 Z" fill="#F9D5C9" stroke="#231F20" stroke-width="1.9" stroke-linejoin="round" />
<path d="M644.5,692.2 C754.73,626.26 876.37,591.88 1001.7,568.7 L1010.3,567.6 L982.5,710.5 L928,710 C834.6,707.82 741.58,700.84 648.6,692 Z" fill="#F9D5C9" stroke="#231F20" stroke-width="1.9" stroke-linejoin="round" />
<path d="M570.62,704.4 L697.01,696.6 L696.99,696 L570.38,698 A3.2,3.2 0 0 1 570.62,704.4 Z" fill="#fff" stroke="#231F20" stroke-width="1.3" stroke-linejoin="round" /><path d="M574.5,701.05 L665.38,697.52" stroke="#231F20" stroke-width="0.9" stroke-dasharray="14 3 9 3" fill="none"/><ellipse cx="572.7" cy="701.11" rx="1.3" ry="1.92" transform="rotate(-2.2 572.7 701.11)" fill="none" stroke="#231F20" stroke-width="0.8"/>
<path d="M699.6,747 Q711,734 721.9,725.4" stroke="#231F20" stroke-width="2.9" stroke-linecap="round" fill="none"/>
<path d="M765.1,769.2 Q773,756 784.8,743.7" stroke="#231F20" stroke-width="2.9" stroke-linecap="round" fill="none"/>
<path d="M820.1,786.3 Q827,773 835.8,762" stroke="#231F20" stroke-width="2.9" stroke-linecap="round" fill="none"/>
<path d="M931.8,711 L983.3,709.8 L1010.3,567.6 L1019,559.5 C1018.42,561.67 1016.37,567.42 1015.5,572.5 C1014.63,577.58 1014.33,583.98 1013.8,590 C1013.27,596.02 1012.92,603.02 1012.3,608.6 C1011.68,614.18 1010.85,618.67 1010.1,623.5 C1009.35,628.33 1008.55,632.65 1007.8,637.6 C1007.05,642.55 1006.47,648.12 1005.6,653.2 C1004.73,658.28 1003.83,663.15 1002.6,668.1 C1001.37,673.05 999.63,677.58 998.2,682.9 C996.77,688.22 995.45,695.32 994,700 C992.55,704.68 991.08,707.2 989.5,711 C987.92,714.8 986.62,718.27 984.5,722.8 C982.38,727.33 979.47,733.27 976.8,738.2 C974.13,743.13 971.45,747.47 968.5,752.4 C965.55,757.33 962.45,762.87 959.1,767.8 C955.75,772.73 951.77,777.85 948.4,782 C945.03,786.15 941.67,789.53 938.9,792.7 C936.13,795.87 933.57,799.03 931.8,801 C930.03,802.97 931.42,803.68 928.3,804.5 C925.18,805.32 915.63,805.67 913.1,805.9 L921.6,799.3 L903.9,770.4 L931.8,711 Z" fill="#fff" stroke="#231F20" stroke-width="1.9" stroke-linejoin="round" />
<path d="M933,714.6 L955.5,741.8 L965,744.1 L948.4,773.7 L940.1,779.6 L925.9,751.2 Z" fill="#D4D4D4" stroke="#231F20" stroke-width="1.4" stroke-linejoin="round" />
<path d="M935.56,719.88 L932.4,753.7" stroke="#231F20" stroke-width="1.1" fill="none"/>
<path d="M939.11,723.16 L934.9,756.2" stroke="#231F20" stroke-width="1.1" fill="none"/>
<path d="M942.67,726.43 L937.4,758.7" stroke="#231F20" stroke-width="1.1" fill="none"/>
<path d="M946.22,729.71 L939.9,761.2" stroke="#231F20" stroke-width="1.1" fill="none"/>
<path d="M949.78,732.99 L942.4,763.7" stroke="#231F20" stroke-width="1.1" fill="none"/>
<path d="M953.33,736.27 L944.9,766.2" stroke="#231F20" stroke-width="1.1" fill="none"/>
<path d="M956.89,739.54 L947.4,768.7" stroke="#231F20" stroke-width="1.1" fill="none"/>
<path d="M960.44,742.82 L949.9,771.2" stroke="#231F20" stroke-width="1.1" fill="none"/>
<path d="M908.5,760.8 L915,755 L939.7,778.9 L933.5,791.5 L929,794.5 L926.6,793.5 Z" fill="#fff" stroke="#231F20" stroke-width="1.4" stroke-linejoin="round" />
<path d="M911.5,760 L928.5,789" stroke="#231F20" stroke-width="1.1" stroke-dasharray="6 1.5" fill="none"/>
<path d="M914.1,758.6 L931.1,787.4" stroke="#231F20" stroke-width="1.1" stroke-dasharray="6 1.5" fill="none"/>
<path d="M916.7,757.2 L933.7,785.8" stroke="#231F20" stroke-width="1.1" stroke-dasharray="6 1.5" fill="none"/>
<path d="M919.3,755.8 L936.3,784.2" stroke="#231F20" stroke-width="1.1" stroke-dasharray="6 1.5" fill="none"/>
<path d="M948.4,711 L943.7,730" fill="none" stroke="#231F20" stroke-width="2.6" stroke-linejoin="round" />
<path d="M967.3,711 L955.5,741.8 M956.7,743 L965,744.1 L975.6,731.1 M952,771.4 L959.1,770.8 M903.9,770.4 L921.6,799.3 M913.1,805.9 L933,805.5" fill="none" stroke="#231F20" stroke-width="1.4" stroke-linejoin="round" />
<path d="M988.6,711 C979.74,743.5 949.82,781.52 922.4,801" fill="none" stroke="#231F20" stroke-width="1.4" stroke-linejoin="round" />
<path d="M991,685.6 L998.1,685 M981.5,711 L989.2,710.4 M974.4,731.1 L982.1,730.5 M952,771.4 L959.1,770.8 M1000,640.1 L1007.6,639" fill="none" stroke="#231F20" stroke-width="1.5" stroke-linejoin="round" />
<ellipse cx="967.3" cy="732.3" rx="3.2" ry="8.5" transform="rotate(22 967.3 732.3)" fill="#fff" stroke="#231F20" stroke-width="1.4"/>
<ellipse cx="967.3" cy="732.3" rx="1.5" ry="6" transform="rotate(22 967.3 732.3)" fill="none" stroke="#231F20" stroke-width="0.9"/>
<ellipse cx="973.8" cy="714.5" rx="2.3" ry="3" fill="none" stroke="#231F20" stroke-width="1.1"/>
<path d="M932.2,711.3 L882.8,806.5" stroke="#231F20" stroke-width="6.0" stroke-linecap="round" fill="none"/><path d="M932.2,711.3 L882.8,806.5" stroke="#fff" stroke-width="3.2" stroke-linecap="round" fill="none"/>
<path d="M1019,559.5 C1019.63,562.57 1021.45,572.48 1022.8,577.9 C1024.15,583.32 1025.32,588.18 1027.1,592 C1028.88,595.82 1032.43,599.33 1033.5,600.8 C1033.18,602.72 1032.28,608.52 1031.6,612.3 C1030.92,616.08 1030.13,620.28 1029.4,623.5 C1028.67,626.72 1027.95,628.52 1027.2,631.6 C1026.45,634.68 1025.65,638.4 1024.9,642 C1024.15,645.6 1023.57,649.48 1022.7,653.2 C1021.83,656.92 1020.93,660.22 1019.7,664.3 C1018.47,668.38 1016.65,673.6 1015.3,677.7 C1013.95,681.8 1012.9,684.68 1011.6,688.9 C1010.3,693.12 1009.15,697.35 1007.5,703 C1005.85,708.65 1004.05,716.93 1001.7,722.8 C999.35,728.67 996.37,733.27 993.4,738.2 C990.43,743.13 987.45,747.47 983.9,752.4 C980.35,757.33 976.23,762.87 972.1,767.8 C967.97,772.73 963.45,777.67 959.1,782 C954.75,786.33 949.95,790.45 946,793.8 C942.05,797.15 938.35,800.22 935.4,802.1 C932.45,803.98 929.48,804.6 928.3,805.1 C928.88,804.42 930.03,803.07 931.8,801 C933.57,798.93 936.13,795.87 938.9,792.7 C941.67,789.53 945.03,786.15 948.4,782 C951.77,777.85 955.75,772.73 959.1,767.8 C962.45,762.87 965.55,757.33 968.5,752.4 C971.45,747.47 974.13,743.13 976.8,738.2 C979.47,733.27 982.38,727.33 984.5,722.8 C986.62,718.27 987.92,714.8 989.5,711 C991.08,707.2 992.55,704.68 994,700 C995.45,695.32 996.77,688.22 998.2,682.9 C999.63,677.58 1001.37,673.05 1002.6,668.1 C1003.83,663.15 1004.73,658.28 1005.6,653.2 C1006.47,648.12 1007.05,642.55 1007.8,637.6 C1008.55,632.65 1009.35,628.33 1010.1,623.5 C1010.85,618.67 1011.68,614.18 1012.3,608.6 C1012.92,603.02 1013.27,596.02 1013.8,590 C1014.33,583.98 1014.63,577.58 1015.5,572.5 C1016.37,567.42 1018.42,561.67 1019,559.5 Z" fill="#7F007F" stroke="#231F20" stroke-width="1.7" stroke-linejoin="round" />
<path d="M1010.3,567.6 L1019,559.5" fill="none" stroke="#231F20" stroke-width="1.4" stroke-linejoin="round" />
<ellipse cx="997.2" cy="561.6" rx="5" ry="8.2" transform="rotate(-12 997.2 561.6)" fill="none" stroke="#231F20" stroke-width="1.3"/>
<path d="M995.7,554.5 C1001,558 1005,563 1003.3,568 C1001.5,574 1002,581 1007.6,587.6 L1013,592.5" fill="none" stroke="#231F20" stroke-width="1.3" stroke-linejoin="round" />
<path d="M855.6,858.2 C858.05,853.47 867.85,834.53 870.3,829.8 C870.77,829.4 870.9,827.08 873.1,827.4 C875.3,827.72 881.13,831.47 883.5,831.7 C885.87,831.93 885.4,831.33 887.3,828.8 C889.2,826.27 891.9,819.73 894.9,816.5 C897.9,813.27 903.57,810.58 905.3,809.4" fill="none" stroke="#6D6E70" stroke-width="3.6" stroke-linecap="round" stroke-linejoin="round"/>
<path d="M940.8,811.8 C941.03,813.37 941.88,817.58 942.2,821.2 C942.52,824.82 942.62,831.45 942.7,833.5 C942.15,833.98 942.48,834.82 939.4,836.4 C936.32,837.98 927.12,841.27 924.2,843 C921.28,844.73 922.28,846.17 921.9,846.8 C922.13,849.17 922.2,855.8 923.3,861 C924.4,866.2 927.63,875.17 928.5,878" fill="none" stroke="#6D6E70" stroke-width="3.6" stroke-linecap="round" stroke-linejoin="round"/>
<path d="M2126.1,903.7 C2070.92,992.79 2019.32,1086.21 1947.6,1163.5 L1854.5,1126 C1914.29,1073.3 1973.93,1021.58 2032,966.8 L2083.1,929.2 Z" fill="#F9D5C9" stroke="#231F20" stroke-width="1.9" stroke-linejoin="round" />
<path d="M1704.1,1063.2 C1818.85,994.13 1936.44,954.07 2068.9,933.5 C1986.07,1008.47 1904.16,1087.26 1815.7,1155.5 C1780.51,1125.11 1739.49,1098.42 1706.7,1064.9 Z" fill="#F9D5C9" stroke="#231F20" stroke-width="1.9" stroke-linejoin="round" />
<path d="M2132.45,890.19 L2031.83,966.26 L2032.17,966.74 L2136.75,896.21 A3.7,3.7 0 0 1 2132.45,890.19 Z" fill="#fff" stroke="#231F20" stroke-width="1.3" stroke-linejoin="round" /><path d="M2131.35,895.53 L2057.65,948.17" stroke="#231F20" stroke-width="0.9" stroke-dasharray="14 3 9 3" fill="none"/><ellipse cx="2132.81" cy="894.48" rx="1.3" ry="2.22" transform="rotate(144.5 2132.81 894.48)" fill="none" stroke="#231F20" stroke-width="0.8"/>
<path d="M2029,1007.6 Q2045,1007.6 2059.4,1010.4" stroke="#231F20" stroke-width="2.9" stroke-linecap="round" fill="none"/>
<path d="M1990.8,1060.6 Q2007,1063 2022.2,1068.6" stroke="#231F20" stroke-width="2.9" stroke-linecap="round" fill="none"/>
<path d="M1961.4,1106.7 Q1975,1110.5 1988.8,1116.5" stroke="#231F20" stroke-width="2.9" stroke-linecap="round" fill="none"/>
<path d="M1704.1,1063.2 C1704.53,1063.48 1704.07,1062.42 1706.7,1064.9 C1709.33,1067.38 1714.63,1073.4 1719.9,1078.1 C1725.17,1082.8 1731.57,1087.53 1738.3,1093.1 C1745.03,1098.67 1752.97,1105.5 1760.3,1111.5 C1767.63,1117.5 1774.98,1123.53 1782.3,1129.1 C1789.62,1134.67 1798.63,1140.5 1804.2,1144.9 C1809.77,1149.3 1813.78,1153.73 1815.7,1155.5 L1854.5,1126 L1916,1154.5 L1918,1189 L1927.9,1189.9 L1916.3,1198.2 L1910.1,1199.9 C1908.42,1199.32 1904.28,1197.75 1900,1196.4 C1895.72,1195.05 1889.58,1193.48 1884.4,1191.8 C1879.22,1190.12 1874.08,1188.25 1868.9,1186.3 C1863.72,1184.35 1859.78,1182.9 1853.3,1180.1 C1846.82,1177.3 1836.72,1173.02 1830,1169.5 C1823.28,1165.98 1818.75,1162.8 1813,1159 C1807.25,1155.2 1802.08,1151.25 1795.5,1146.7 C1788.92,1142.15 1780.83,1136.98 1773.5,1131.7 C1766.17,1126.42 1758.1,1120.42 1751.5,1115 C1744.9,1109.58 1739.47,1104.32 1733.9,1099.2 C1728.33,1094.08 1722.48,1088.7 1718.1,1084.3 C1713.72,1079.9 1711.25,1076.03 1707.6,1072.8 C1703.95,1069.57 1698.77,1066.8 1696.2,1064.9 C1693.63,1063 1692.87,1061.98 1692.2,1061.4 L1704.1,1063.2 Z" fill="#fff" stroke="#231F20" stroke-width="1.9" stroke-linejoin="round" />
<path d="M1855.6,1129.5 L1886,1153.7 L1888.3,1186.3 L1851.8,1172.3 Z" fill="#D4D4D4" stroke="#231F20" stroke-width="1.4" stroke-linejoin="round" />
<path d="M1855.12,1134.85 L1886.29,1157.78" stroke="#231F20" stroke-width="1.1" fill="none"/>
<path d="M1854.65,1140.2 L1886.58,1161.85" stroke="#231F20" stroke-width="1.1" fill="none"/>
<path d="M1854.17,1145.55 L1886.86,1165.92" stroke="#231F20" stroke-width="1.1" fill="none"/>
<path d="M1853.7,1150.9 L1887.15,1170" stroke="#231F20" stroke-width="1.1" fill="none"/>
<path d="M1853.22,1156.25 L1887.44,1174.08" stroke="#231F20" stroke-width="1.1" fill="none"/>
<path d="M1852.75,1161.6 L1887.72,1178.15" stroke="#231F20" stroke-width="1.1" fill="none"/>
<path d="M1852.27,1166.95 L1888.01,1182.23" stroke="#231F20" stroke-width="1.1" fill="none"/>
<path d="M1887.5,1154.4 L1894.5,1149.8 L1896.9,1186.3 L1890.6,1187.9 Z" fill="#fff" stroke="#231F20" stroke-width="1.3" stroke-linejoin="round" />
<path d="M1896.9,1150.5 L1905.4,1154.4 L1906.2,1189.4 L1898.5,1188 Z" fill="#fff" stroke="#231F20" stroke-width="1.3" stroke-linejoin="round" />
<path d="M1899,1154 L1900,1187" stroke="#231F20" stroke-width="0.9" stroke-dasharray="5 2" fill="none"/>
<path d="M1901.3,1155 L1902.3,1186.7" stroke="#231F20" stroke-width="0.9" stroke-dasharray="5 2" fill="none"/>
<path d="M1903.6,1156 L1904.6,1186.4" stroke="#231F20" stroke-width="0.9" stroke-dasharray="5 2" fill="none"/>
<path d="M1841.6,1137.3 L1854.9,1146.7" fill="none" stroke="#231F20" stroke-width="2.5" stroke-linejoin="round" />
<path d="M1828.4,1149 L1854.9,1163.8 M1819.1,1157.5 L1849.4,1173.1 M1914.7,1157.5 C1917,1170 1918,1185 1916.3,1198.2 M1906,1190.3 L1927.9,1189.9 M1816.5,1156.8 L1830,1164.2 L1853.3,1176.2 L1884.4,1187.9 L1915.5,1193.3" fill="none" stroke="#231F20" stroke-width="1.4" stroke-linejoin="round" />
<ellipse cx="1840.1" cy="1164.5" rx="7" ry="2.4" transform="rotate(28 1840.1 1164.5)" fill="none" stroke="#231F20" stroke-width="1.3"/>
<ellipse cx="1823.8" cy="1154.4" rx="2.5" ry="1.9" fill="none" stroke="#231F20" stroke-width="1.1"/>
<path d="M1854.5,1126.5 L1949.5,1170.3" stroke="#231F20" stroke-width="6.1" stroke-linecap="round" fill="none"/><path d="M1854.5,1126.5 L1949.5,1170.3" stroke="#fff" stroke-width="3.3" stroke-linecap="round" fill="none"/>
<path d="M1692.2,1061.4 C1693.3,1063.3 1696.68,1068.55 1698.8,1072.8 C1700.92,1077.05 1703.52,1081.92 1704.9,1086.9 C1706.28,1091.88 1706.73,1100.07 1707.1,1102.7 C1710.4,1105.63 1719.5,1114 1726.9,1120.3 C1734.3,1126.6 1743,1134.05 1751.5,1140.5 C1760,1146.95 1769.12,1153.58 1777.9,1159 C1786.68,1164.42 1796.82,1169.1 1804.2,1173 C1811.58,1176.9 1816.6,1179.8 1822.2,1182.4 C1827.8,1185 1832.62,1186.78 1837.8,1188.6 C1842.98,1190.42 1848.12,1191.87 1853.3,1193.3 C1858.48,1194.73 1863.72,1196.1 1868.9,1197.2 C1874.08,1198.3 1879.22,1199.25 1884.4,1199.9 C1889.58,1200.55 1895.72,1201.03 1900,1201.1 C1904.28,1201.17 1908.42,1200.43 1910.1,1200.3 C1910.1,1200.23 1911.78,1200.55 1910.1,1199.9 C1908.42,1199.25 1904.28,1197.75 1900,1196.4 C1895.72,1195.05 1889.58,1193.48 1884.4,1191.8 C1879.22,1190.12 1874.08,1188.25 1868.9,1186.3 C1863.72,1184.35 1859.78,1182.9 1853.3,1180.1 C1846.82,1177.3 1836.72,1173.02 1830,1169.5 C1823.28,1165.98 1818.75,1162.8 1813,1159 C1807.25,1155.2 1802.08,1151.25 1795.5,1146.7 C1788.92,1142.15 1780.83,1136.98 1773.5,1131.7 C1766.17,1126.42 1758.1,1120.42 1751.5,1115 C1744.9,1109.58 1739.47,1104.32 1733.9,1099.2 C1728.33,1094.08 1722.48,1088.7 1718.1,1084.3 C1713.72,1079.9 1711.25,1076.03 1707.6,1072.8 C1703.95,1069.57 1698.77,1066.8 1696.2,1064.9 C1693.63,1063 1692.87,1061.98 1692.2,1061.4 Z" fill="#CC00FF" stroke="#231F20" stroke-width="1.7" stroke-linejoin="round" />
<path d="M1751.5,1115.9 L1756.8,1112.8 M1787.5,1145.8 L1793.7,1142.3 M1809.5,1162.5 L1816.5,1157.2 M1871.2,1191 L1876.6,1186.3" fill="none" stroke="#231F20" stroke-width="1.5" stroke-linejoin="round" />
<path d="M1692.2,1061.4 L1704.1,1063.2 L1706.7,1064.9" fill="none" stroke="#231F20" stroke-width="1.5" stroke-linejoin="round" />
<ellipse cx="1712.3" cy="1049.3" rx="5.2" ry="9.3" transform="rotate(-32 1712.3 1049.3)" fill="none" stroke="#231F20" stroke-width="1.3"/>
<path d="M1707.6,1055.3 C1713,1060 1719,1066 1720.3,1074.6 C1720.5,1078 1719,1081 1717.2,1083.4" fill="none" stroke="#231F20" stroke-width="1.3" stroke-linejoin="round" />
<path d="M1936.5,1197.9 C1937.43,1197.77 1939.93,1196.87 1942.1,1197.1 C1944.27,1197.33 1945.78,1197.68 1949.5,1199.3 C1953.22,1200.92 1961.42,1205.68 1964.4,1206.8 C1967.38,1207.92 1966.9,1206.13 1967.4,1206 C1968.63,1204.45 1973.57,1198.25 1974.8,1196.7 C1975.55,1197.02 1974.47,1195.43 1979.3,1198.6 C1984.13,1201.77 1999.72,1212.85 2003.8,1215.7" fill="none" stroke="#6D6E70" stroke-width="3.6" stroke-linecap="round" stroke-linejoin="round"/>
<path d="M1904.9,1214.6 C1905.77,1217.27 1908.48,1226.82 1910.1,1230.6 C1911.72,1234.38 1913.85,1236.18 1914.6,1237.3 C1917.7,1237.17 1929.62,1236.13 1933.2,1236.5 C1936.78,1236.87 1935.62,1239 1936.1,1239.5 C1936.85,1241.73 1939.23,1247.93 1940.6,1252.9 C1941.97,1257.87 1943.68,1266.57 1944.3,1269.3" fill="none" stroke="#6D6E70" stroke-width="3.6" stroke-linecap="round" stroke-linejoin="round"/>
<rect x="1.5" y="1.5" width="2997" height="1758" fill="none" stroke="#000" stroke-width="3"/></svg></body></html>
